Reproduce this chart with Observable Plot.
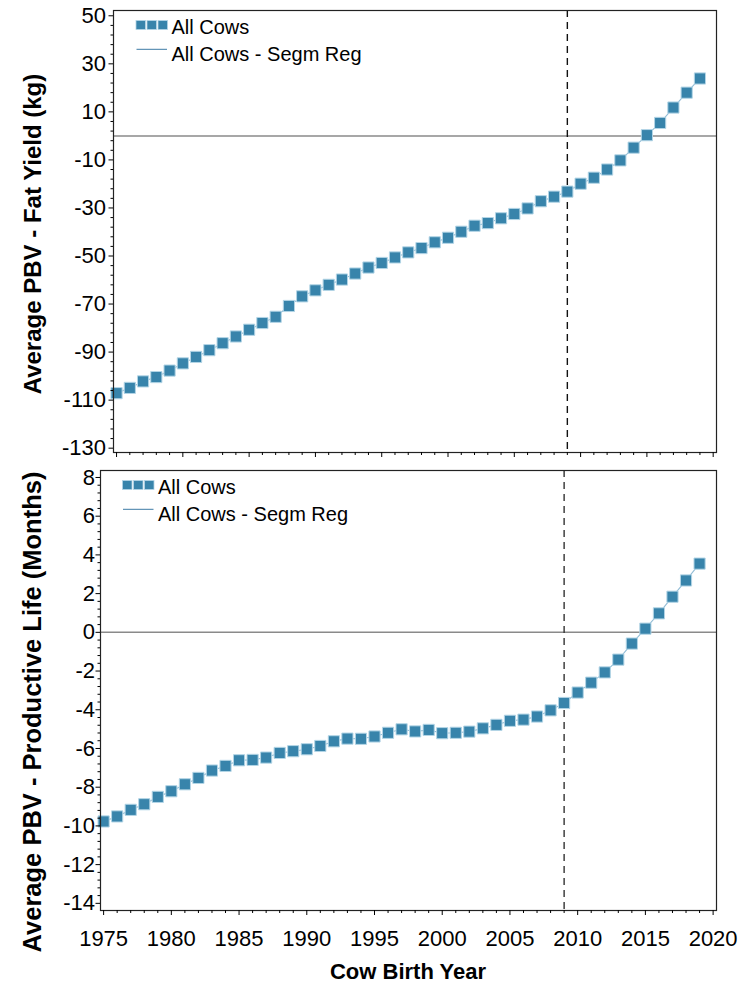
<!DOCTYPE html>
<html>
<head>
<meta charset="utf-8">
<script src="https://cdn.jsdelivr.net/npm/d3@7"></script>
<script src="https://cdn.jsdelivr.net/npm/@observablehq/plot@0.6"></script>
<style>
  html, body { margin: 0; padding: 0; background: #fff; }
  #wrap { position: relative; width: 742px; height: 986px; background: #fff; overflow: hidden; }
  #wrap > svg { position: absolute; left: 0; }
</style>
</head>
<body>
<div id="wrap"></div>
<script>
// ---- data ----
const years = d3.range(1975, 2020);
const fatYield = [-107.1,-104.9,-102.2,-100.4,-97.7,-94.7,-92.0,-89.2,-86.3,-83.5,-80.7,-77.9,-75.3,-70.8,-66.8,-64.3,-62.0,-59.8,-57.3,-54.8,-52.9,-50.6,-48.5,-46.7,-44.3,-42.4,-39.9,-37.4,-36.3,-34.3,-32.5,-30.2,-27.2,-25.3,-23.2,-19.9,-17.4,-14.0,-10.2,-4.9,0.3,5.4,11.8,18.0,23.9];
const prodLife = [-9.77,-9.51,-9.17,-8.88,-8.50,-8.21,-7.85,-7.52,-7.14,-6.90,-6.61,-6.59,-6.47,-6.23,-6.14,-6.04,-5.87,-5.63,-5.49,-5.50,-5.38,-5.19,-5.01,-5.12,-5.04,-5.21,-5.19,-5.13,-4.96,-4.78,-4.57,-4.51,-4.35,-4.03,-3.65,-3.11,-2.60,-2.07,-1.41,-0.58,0.19,0.98,1.84,2.68,3.55];
const breakYear = 2009;
const xTicks = d3.range(1975, 2021, 5);
const xMinor = d3.range(1975, 2021);
const fatTicks = d3.range(-130, 51, 20);
const fatMinor = d3.range(-130, 51, 4).filter(v => !fatTicks.includes(v));
const plTicks = d3.range(-14, 9, 2);
const plMinor = d3.range(-14, 8.01, 0.4).map(v => +v.toFixed(1)).filter(v => Math.abs(v / 2 - Math.round(v / 2)) > 1e-6);
const seriesName = "All Cows";
const fitName = "All Cows - Segm Reg";
const fatTitle = "Average PBV - Fat Yield (kg)";
const plTitle = "Average PBV - Productive Life (Months)";
const xTitle = "Cow Birth Year";

const fatData = years.map((y, i) => ({year: y, value: fatYield[i]}));
const plData = years.map((y, i) => ({year: y, value: prodLife[i]}));

const FONT = "'Liberation Sans', Arial, sans-serif";
const MARK_FILL = "#3884ab";
const MARK_STROKE = "#b3d5e6";
const LINE_COLOR = "#93bdd6";
const XDOMAIN = [1974.77, 2020.25];

function panel({data, yDomain, majors, minors, marginLeft, height, marginBottom, showXLabels, tickPad, dashColor}) {
  return Plot.plot({
    width: 742,
    height,
    marginTop: 10,
    marginBottom,
    marginLeft,
    marginRight: 26,
    style: {fontFamily: FONT, fontSize: "22px", color: "#000", background: "transparent", overflow: "visible"},
    x: {domain: XDOMAIN, label: null},
    y: {domain: yDomain, label: null},
    marks: [
      Plot.ruleY([0], {stroke: "#8a8a8a", strokeWidth: 1.5}),
      Plot.ruleX([breakYear], {stroke: dashColor, strokeWidth: 1.4, strokeDasharray: "7,5"}),
      Plot.line(data, {x: "year", y: "value", stroke: LINE_COLOR, strokeWidth: 1.1}),
      Plot.dot(data, {x: "year", y: "value", symbol: "square", r: 6.3, fill: MARK_FILL, stroke: MARK_STROKE, strokeWidth: 1}),
      Plot.frame({stroke: "#222", strokeWidth: 1.2}),
      Plot.axisY(majors, {tickSize: 4.5, tickPadding: tickPad, fontSize: 22, tickFormat: d => String(d), label: null}),
      Plot.axisY(minors, {tickSize: 2.5, tickFormat: () => "", label: null}),
      Plot.axisX(xTicks, {tickSize: 5, tickPadding: 15, fontSize: 22, tickFormat: showXLabels ? (d => String(d)) : (() => ""), label: null}),
      Plot.axisX(xMinor.filter(v => !xTicks.includes(v)), {tickSize: 3, tickFormat: () => "", label: null})
    ]
  });
}

const wrap = document.getElementById("wrap");

const top1 = panel({data: fatData, yDomain: [-131.8, 52.2], majors: fatTicks, minors: fatMinor, marginLeft: 113, height: 462, marginBottom: 10, showXLabels: false, tickPad: 3, dashColor: "#111"});
top1.style.top = "0px";
wrap.appendChild(top1);

const bot = panel({data: plData, yDomain: [-14.37, 8.36], majors: plTicks, minors: plMinor, marginLeft: 100, height: 526, marginBottom: 76, showXLabels: true, tickPad: 1, dashColor: "#333"});
bot.style.top = "460px";
wrap.appendChild(bot);

// ---- overlay: titles & legends ----
const ov = d3.select(wrap).append("svg")
  .attr("width", 742).attr("height", 986)
  .style("top", "0px").style("pointer-events", "none")
  .attr("font-family", FONT);

ov.append("text").attr("transform", "translate(41,234) rotate(-90)")
  .attr("text-anchor", "middle").attr("font-weight", "bold").attr("font-size", 24).text(fatTitle);
ov.append("text").attr("transform", "translate(41,712) rotate(-90)")
  .attr("text-anchor", "middle").attr("font-weight", "bold").attr("font-size", 25.5).text(plTitle);
ov.append("text").attr("x", 408).attr("y", 979)
  .attr("text-anchor", "middle").attr("font-weight", "bold").attr("font-size", 22).text(xTitle);

function legend(x0, y0) {
  const g = ov.append("g").attr("transform", `translate(${x0},${y0})`);
  [0, 11, 22].forEach(dx => g.append("rect").attr("x", dx).attr("y", 0).attr("width", 9.5).attr("height", 9)
    .attr("fill", MARK_FILL).attr("stroke", MARK_STROKE).attr("stroke-width", 0.8));
  g.append("text").attr("x", 35.5).attr("y", 13.8).attr("font-size", 20).text(seriesName);
  g.append("line").attr("x1", 0.5).attr("x2", 31).attr("y1", 28.8).attr("y2", 28.8)
    .attr("stroke", "#3d7ba6").attr("stroke-width", 1);
  g.append("text").attr("x", 35.5).attr("y", 40).attr("font-size", 20).text(fitName);
}
legend(136, 20.5);
legend(122.5, 480.5);
</script>
</body>
</html>
